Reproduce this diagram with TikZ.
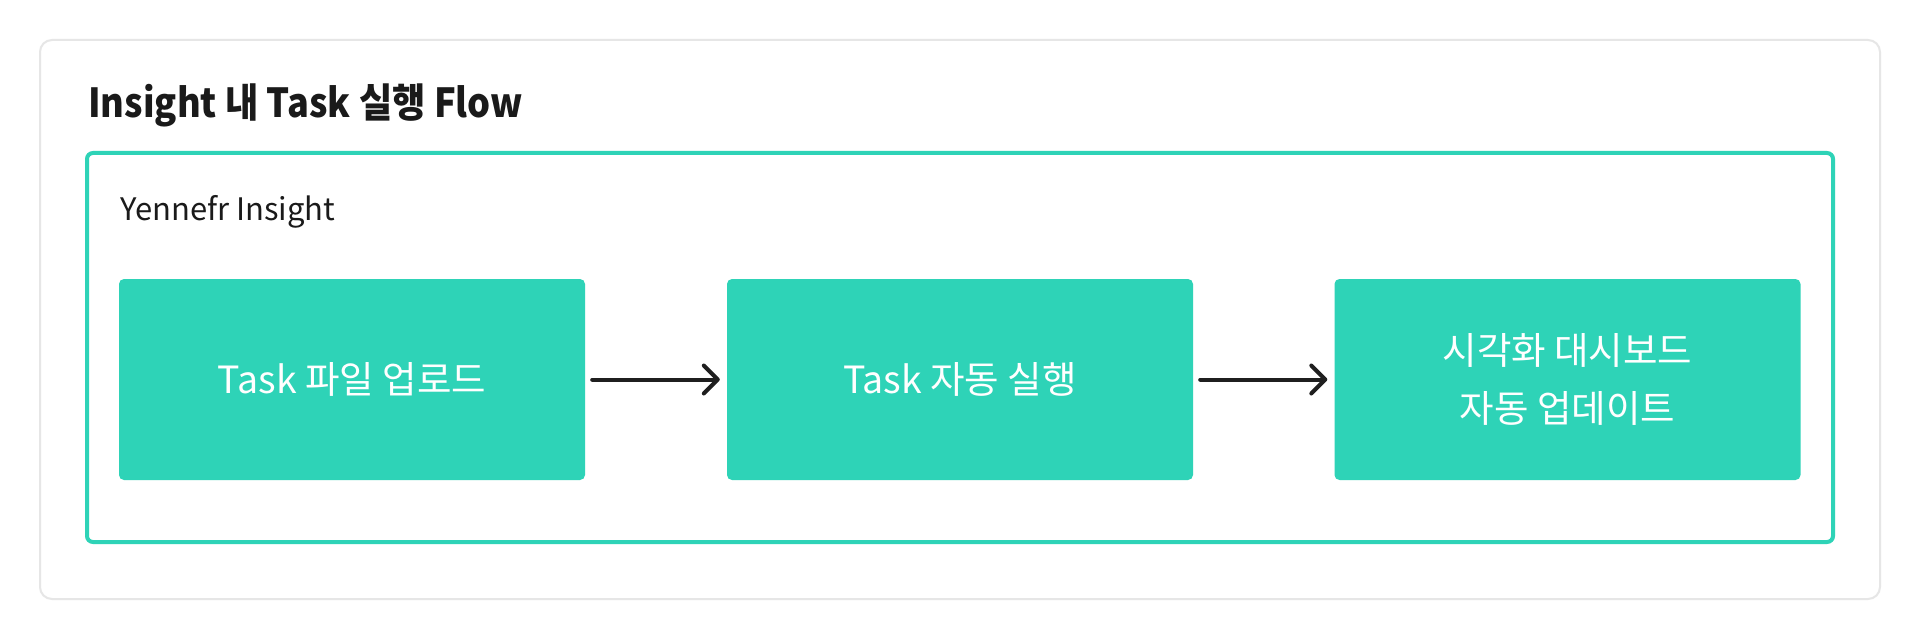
\documentclass[tikz,border=0pt]{standalone}
\usepackage{fontspec}
\setmainfont{Noto Sans CJK KR}
\newfontfamily\titlefont[FakeStretch=0.905,BoldFeatures={FakeStretch=0.905}]{Noto Sans CJK KR}
\usetikzlibrary{arrows.meta}
\definecolor{tealc}{HTML}{2ED3B7}
\definecolor{outerc}{HTML}{E6E6E6}
\definecolor{titlec}{HTML}{1A1A1A}
\definecolor{arrowc}{HTML}{1F1F1F}
\begin{document}
\begin{tikzpicture}[x=1pt,y=-1pt,
  stepbox/.style={fill=tealc, rounded corners=5pt, minimum width=466pt, minimum height=201pt, text=white, font=\fontsize{37.5}{58}\selectfont, align=center, inner sep=0pt},
  arr/.style={draw=arrowc, line width=4pt, line cap=round, -{Straight Barb[length=14pt,width=28pt,line width=4pt, round]}}]
\useasboundingbox (0,0) rectangle (1920,639);
\fill[white] (0,0) rectangle (1920,639);
\draw[draw=outerc, line width=2pt, rounded corners=12pt] (40,40) rectangle (1880,599);
\node[anchor=base west, font=\fontsize{40}{48}\selectfont\titlefont\bfseries, text=titlec, inner sep=0pt] (title) at (88,118) {Insight 내 Task 실행 Flow};
\draw[draw=tealc, line width=4pt, rounded corners=6pt] (87,153) rectangle (1833,542);
\node[anchor=base west, font=\fontsize{31}{38}\selectfont, text=titlec, inner sep=0pt] (label) at (120,221) {Yennefr Insight};
\node[stepbox] (s1) at (352,379.5) {Task 파일 업로드};
\node[stepbox] (s2) at (960,379.5) {Task 자동 실행};
\node[stepbox] (s3) at (1567.5,379.5) {시각화 대시보드\\자동 업데이트};
\draw[arr] ([xshift=7pt]s1.east) -- ([xshift=-7pt]s2.west);
\draw[arr] ([xshift=7pt]s2.east) -- ([xshift=-7pt]s3.west);
\end{tikzpicture}
\end{document}
